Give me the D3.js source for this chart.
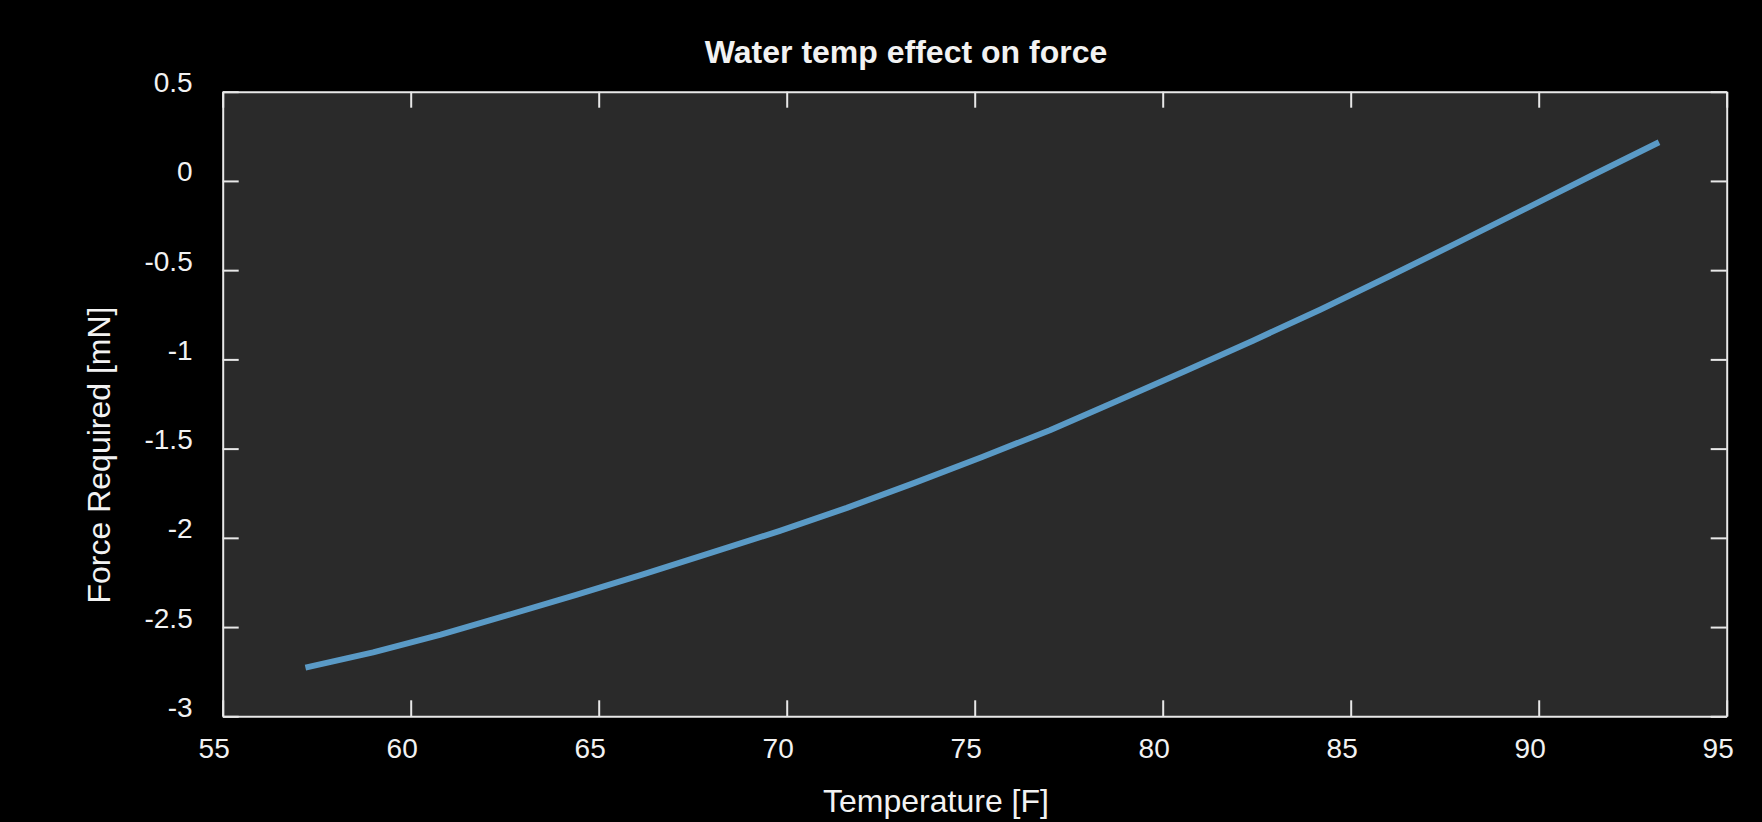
<!DOCTYPE html>
<html>
<head>
<meta charset="utf-8">
<script src="https://cdn.jsdelivr.net/npm/d3@7"></script>
<style>
  html, body { margin: 0; padding: 0; background: #000; }
  svg { display: block; }
  text { font-family: "Liberation Sans", Arial, sans-serif; fill: #f2f2f2; }
</style>
</head>
<body>
<div id="chart"></div>
<script>
// Water temperature (F), one point per degree C from 14 to 34
const tempF = [57.2, 59, 60.8, 62.6, 64.4, 66.2, 68, 69.8, 71.6, 73.4, 75.2,
  77, 78.8, 80.6, 82.4, 84.2, 86, 87.8, 89.6, 91.4, 93.2];
// Force required (mN)
const force = [-2.727, -2.642, -2.542, -2.432, -2.320, -2.203, -2.083, -1.962,
  -1.832, -1.692, -1.547, -1.397, -1.232, -1.065, -0.895, -0.720, -0.537,
  -0.350, -0.161, 0.029, 0.217];

const xTicks = [55, 60, 65, 70, 75, 80, 85, 90, 95];
const yTicks = [0.5, 0, -0.5, -1, -1.5, -2, -2.5, -3];

const title = 'Water temp effect on force';
const xLabel = 'Temperature [F]';
const yLabel = 'Force Required [mN]';

const dataset = tempF.map((t, i) => ({ t, f: force[i] }));

const w = 1762;
const h = 822;
const margin = { top: 91.7, right: 35.3, bottom: 105.7, left: 222.7 };
const axisColor = '#e8e8e8';

const xScale = d3.scaleLinear()
  .domain([55, 95])
  .range([margin.left, w - margin.right]);

const yScale = d3.scaleLinear()
  .domain([-3, 0.5])
  .range([h - margin.bottom, margin.top]);

const svg = d3.select('#chart')
  .append('svg')
  .attr('width', w)
  .attr('height', h);

svg.append('rect')
  .attr('width', w)
  .attr('height', h)
  .attr('fill', '#000');

// plot background
svg.append('rect')
  .attr('x', margin.left)
  .attr('y', margin.top)
  .attr('width', w - margin.left - margin.right)
  .attr('height', h - margin.top - margin.bottom)
  .attr('fill', '#2a2a2a');

// line
const line = d3.line()
  .x(d => xScale(d.t))
  .y(d => yScale(d.f));

svg.append('path')
  .datum(dataset)
  .attr('fill', 'none')
  .attr('stroke', '#5a9ac6')
  .attr('stroke-width', 6)
  .attr('stroke-linejoin', 'round')
  .attr('d', line);

// axes, ticks pointing inward on all four sides
const tickLen = 16;

const xBottom = svg.append('g')
  .attr('transform', `translate(0, ${h - margin.bottom})`)
  .call(d3.axisBottom(xScale).tickValues(xTicks).tickSize(-tickLen).tickSizeOuter(0));

xBottom.selectAll('.tick text')
  .attr('y', 42)
  .attr('dy', 0)
  .attr('dx', -9)
  .style('font-size', '28px');

svg.append('g')
  .attr('transform', `translate(0, ${margin.top})`)
  .call(d3.axisTop(xScale).tickValues(xTicks).tickSize(-tickLen).tickSizeOuter(0).tickFormat(''));

const yLeft = svg.append('g')
  .attr('transform', `translate(${margin.left}, 0)`)
  .call(d3.axisLeft(yScale).tickValues(yTicks).tickSize(-tickLen).tickSizeOuter(0)
    .tickFormat(d => String(d)));

yLeft.selectAll('.tick text')
  .attr('x', -30)
  .attr('dy', 0)
  .attr('y', 0)
  .attr('text-anchor', 'end')
  .style('font-size', '28px');

svg.append('g')
  .attr('transform', `translate(${w - margin.right}, 0)`)
  .call(d3.axisRight(yScale).tickValues(yTicks).tickSize(-tickLen).tickSizeOuter(0).tickFormat(''));

svg.selectAll('.domain')
  .attr('stroke', axisColor)
  .attr('stroke-width', 2);

svg.selectAll('.tick line')
  .attr('stroke', axisColor)
  .attr('stroke-width', 2);

svg.selectAll('.tick text')
  .attr('fill', '#f2f2f2')
  .style('font-family', '"Liberation Sans", Arial, sans-serif');

// titles
svg.append('text')
  .attr('x', 906)
  .attr('y', 63)
  .attr('text-anchor', 'middle')
  .style('font-size', '32px')
  .style('font-weight', 'bold')
  .text(title);

svg.append('text')
  .attr('x', 936)
  .attr('y', 812)
  .attr('text-anchor', 'middle')
  .style('font-size', '32px')
  .text(xLabel);

svg.append('text')
  .attr('transform', 'translate(110, 455) rotate(-90)')
  .attr('text-anchor', 'middle')
  .style('font-size', '32px')
  .text(yLabel);
</script>
</body>
</html>
